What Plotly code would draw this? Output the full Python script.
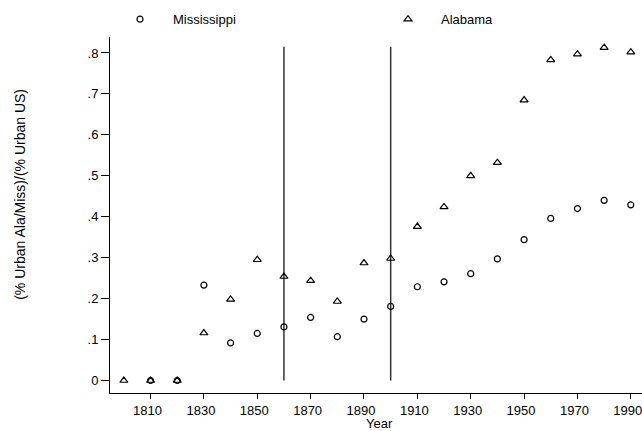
import plotly.graph_objects as go

years = [1800, 1810, 1820, 1830, 1840, 1850, 1860, 1870, 1880, 1890,
         1900, 1910, 1920, 1930, 1940, 1950, 1960, 1970, 1980, 1990]
mississippi = [None, 0.0, 0.0, 0.233, 0.092, 0.115, 0.131, 0.154, 0.107, 0.150,
               0.181, 0.229, 0.241, 0.261, 0.297, 0.344, 0.396, 0.420, 0.440, 0.429]
alabama = [0.0, 0.0, 0.0, 0.116, 0.198, 0.295, 0.254, 0.244, 0.193, 0.287,
           0.298, 0.376, 0.424, 0.500, 0.532, 0.685, 0.783, 0.797, 0.813, 0.802]
x_ticks = [1810, 1830, 1850, 1870, 1890, 1910, 1930, 1950, 1970, 1990]
y_ticks = [0, 0.1, 0.2, 0.3, 0.4, 0.5, 0.6, 0.7, 0.8]
y_ticktext = ["0", ".1", ".2", ".3", ".4", ".5", ".6", ".7", ".8"]
ref_years = [1860, 1900]
ref_top = 0.815

FONT = "Liberation Sans, Arial, sans-serif"
F = dict(family=FONT, size=13, color="black")

fig = go.Figure()
fig.add_trace(go.Scatter(
    x=years, y=mississippi, mode="markers", name="Mississippi", legend="legend",
    marker=dict(symbol="circle-open", size=6, color="black", line=dict(width=1.2, color="black")),
))
fig.add_trace(go.Scatter(
    x=years, y=alabama, mode="markers", name="Alabama", legend="legend2",
    marker=dict(symbol="triangle-up-open", size=7, color="black", line=dict(width=1.2, color="black")),
))

for yr in ref_years:
    fig.add_shape(type="line", xref="x", yref="y", x0=yr, x1=yr, y0=0, y1=ref_top,
                  line=dict(color="#333333", width=1.5), layer="below")

leg_common = dict(orientation="h", xanchor="left", y=1.05, yanchor="middle",
                  itemwidth=56, font=F, bgcolor="rgba(0,0,0,0)")

fig.update_layout(
    width=642, height=431,
    margin=dict(l=110, r=0, t=37, b=37.5, autoexpand=False),
    paper_bgcolor="white", plot_bgcolor="white",
    font=F,
    showlegend=True,
    legend=dict(x=(107 - 110) / 532, **leg_common),
    legend2=dict(x=(375 - 110) / 532, **leg_common),
    xaxis=dict(range=[1794.8, 1994.2], tickvals=x_ticks, showgrid=False, zeroline=False,
               showline=True, linecolor="black", linewidth=1, ticks="outside", ticklen=5,
               tickcolor="black", tickfont=F, ticklabeloverflow="allow", ticklabelshift=-3,
               automargin=False),
    yaxis=dict(range=[-0.0305, 0.839], tickvals=y_ticks, ticktext=y_ticktext, showgrid=False,
               zeroline=False, showline=True, linecolor="black", linewidth=1, ticks="outside",
               ticklen=8, tickcolor="black", tickfont=F, automargin=False),
    annotations=[
        dict(text="Year", xref="paper", yref="paper", x=(379 - 110) / 532, y=-0.0856,
             xanchor="center", yanchor="middle", showarrow=False, font=F),
        dict(text="(% Urban Ala/Miss)/(% Urban US)", xref="paper", yref="paper", x=-0.169,
             y=0.557, xanchor="center", yanchor="middle", textangle=-90, showarrow=False,
             font=dict(family=FONT, size=14, color="black")),
    ],
)

fig.write_html("out.html")
